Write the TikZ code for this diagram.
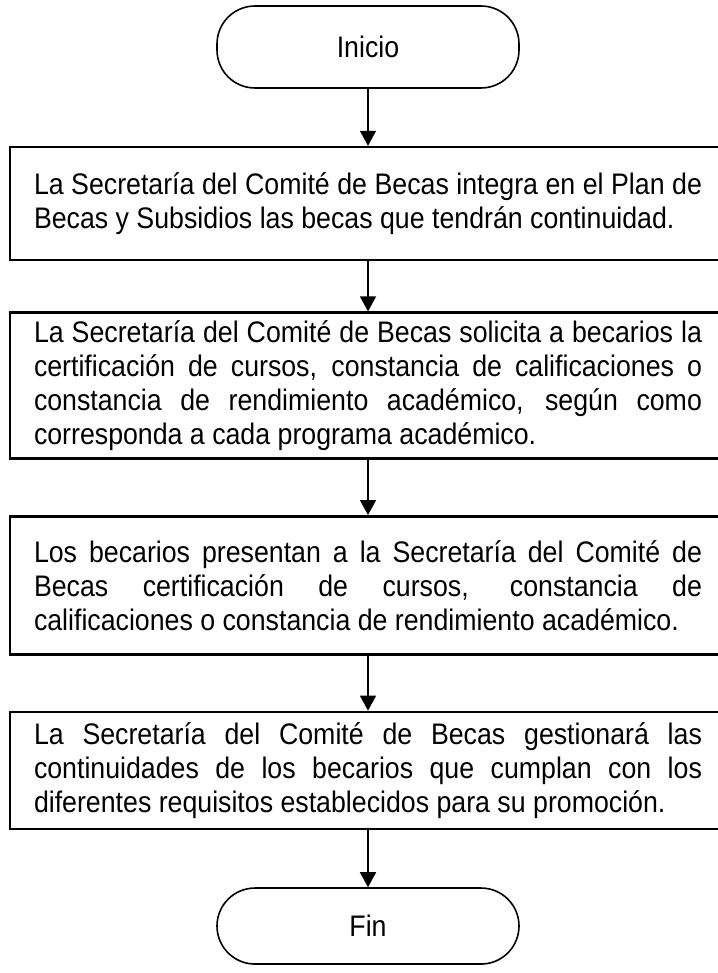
\documentclass[tikz,border=0pt]{standalone}
\usepackage{fontspec}
\setmainfont{Liberation Sans}[FakeStretch=0.9]
\usetikzlibrary{arrows.meta,positioning}

\begin{document}
\begin{tikzpicture}[
  x=1pt,y=1pt,
  node distance=55pt,
  box/.style={draw,line width=2.6pt,text width=668pt,inner xsep=24pt,inner ysep=8pt,align=justify,font=\fontsize{29.7}{34}\selectfont},
  term/.style={draw,line width=1.6pt,rounded corners=38pt,minimum width=302pt,minimum height=76pt,font=\fontsize{29.7}{34}\selectfont},
  arrow/.style={-{Triangle[length=15pt,width=16pt]},line width=1.5pt}
]
\useasboundingbox (0,0) rectangle (717,-973);
\node[term,minimum height=82pt] (inicio) at (368,-47) {Inicio};
\node[box,below=57pt of inicio,minimum height=113pt] (integra) {La Secretaría del Comité de Becas integra en el Plan de\linebreak Becas y Subsidios las becas que tendrán continuidad.};
\node[box,below=50pt of integra,minimum height=143pt] (solicita) {La Secretaría del Comité de Becas solicita a becarios la\linebreak certificación de cursos, constancia de calificaciones o\linebreak constancia de rendimiento académico, según como\linebreak corresponda a cada programa académico.};
\node[box,below=55pt of solicita,minimum height=138pt] (presentan) {Los becarios presentan a la Secretaría del Comité de\linebreak Becas certificación de cursos, constancia de\linebreak calificaciones o constancia de rendimiento académico.};
\node[box,below=55pt of presentan,minimum height=117pt] (gestiona) {La Secretaría del Comité de Becas gestionará las\linebreak continuidades de los becarios que cumplan con los\linebreak diferentes requisitos establecidos para su promoción.};
\node[term,below=57pt of gestiona] (fin) {Fin};
\draw[arrow] (inicio)--(integra);
\draw[arrow] (integra)--(solicita);
\draw[arrow] (solicita)--(presentan);
\draw[arrow] (presentan)--(gestiona);
\draw[arrow] (gestiona)--(fin);
\end{tikzpicture}
\end{document}
